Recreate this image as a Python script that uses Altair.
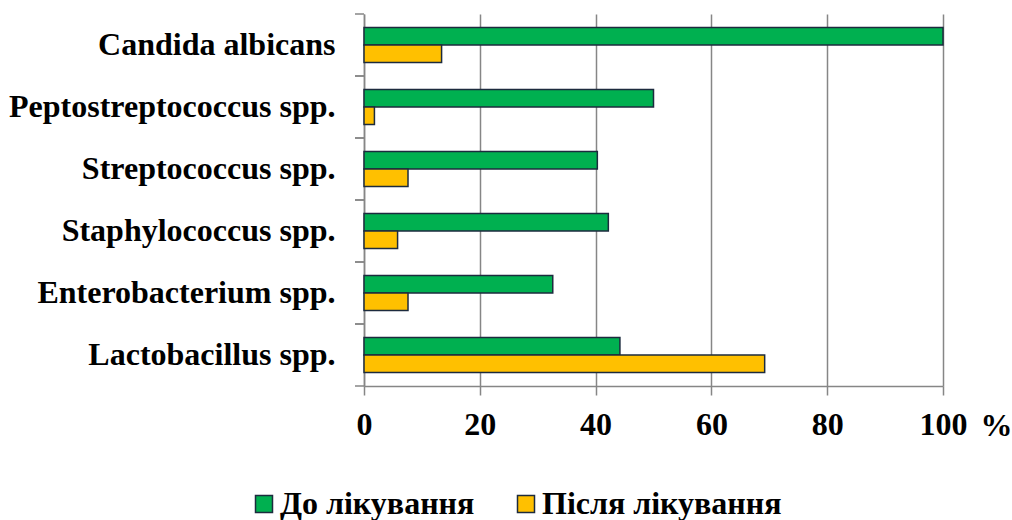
import altair as alt
import pandas as pd

categories = ["Candida albicans", "Peptostreptococcus spp.", "Streptococcus spp.",
              "Staphylococcus spp.", "Enterobacterium spp.", "Lactobacillus spp."]
series_names = ["До лікування", "Після лікування"]
before = [100, 50.0, 40.3, 42.2, 32.6, 44.2]
after = [13.4, 1.8, 7.6, 5.8, 7.6, 69.2]
x_ticks = [0, 20, 40, 60, 80, 100]
colors = ["#00B050", "#FFC000"]

rows = []
for c, b, a in zip(categories, before, after):
    rows.append({"category": c, "series": series_names[0], "value": b})
    rows.append({"category": c, "series": series_names[1], "value": a})
df = pd.DataFrame(rows)
tick_df = pd.DataFrame({"category": categories})

FONT = "Liberation Serif, DejaVu Serif, serif"
GRID = "#868686"
EDGE = "#1c2b3e"

bars = alt.Chart(df).mark_bar(stroke=EDGE, strokeWidth=1.5).encode(
    x=alt.X("value:Q",
            scale=alt.Scale(domain=[0, 100], nice=False),
            axis=alt.Axis(values=x_ticks, grid=True, gridColor=GRID, gridWidth=1.5,
                          domainColor=GRID, domainWidth=1.5, tickColor=GRID, tickWidth=1.5,
                          tickSize=9, labelFont=FONT, labelFontWeight="bold", labelFontSize=32,
                          labelColor="black", labelPadding=14, labelFlush=False,
                          labelOverlap=False, title="%", titleX=632, titleY=49,
                          titleAlign="center", titleBaseline="alphabetic", titleFont=FONT,
                          titleFontSize=32, titleFontWeight="bold", titleColor="black")),
    y=alt.Y("category:N", sort=categories,
            scale=alt.Scale(paddingInner=0, paddingOuter=0),
            axis=alt.Axis(title=None, ticks=False, grid=False, domainColor=GRID, domainWidth=1.5,
                          labelPadding=29, labelFont=FONT, labelFontWeight="bold",
                          labelFontSize=32, labelColor="black", labelLimit=0)),
    yOffset=alt.YOffset("series:N", sort=series_names,
                        scale=alt.Scale(paddingInner=0, paddingOuter=0.771)),
    color=alt.Color("series:N", sort=series_names,
                    scale=alt.Scale(domain=series_names, range=colors),
                    legend=alt.Legend(orient="none", legendX=-116, legendY=474, padding=0,
                                      direction="horizontal", title=None, symbolType="square",
                                      symbolSize=289, symbolStrokeColor=EDGE,
                                      symbolStrokeWidth=1.5, labelFont=FONT, labelFontSize=32,
                                      labelFontWeight="bold", labelColor="black", labelOffset=0,
                                      columnPadding=35, labelLimit=0)),
)

ticks_top = alt.Chart(tick_df).mark_rule(color=GRID, strokeWidth=1.5).encode(
    y=alt.Y("category:N", sort=categories, bandPosition=0),
    x=alt.value(-9), x2=alt.value(0))
ticks_bottom = alt.Chart(tick_df).mark_rule(color=GRID, strokeWidth=1.5).encode(
    y=alt.Y("category:N", sort=categories, bandPosition=1),
    x=alt.value(-9), x2=alt.value(0))

chart = alt.layer(bars, ticks_top, ticks_bottom).properties(
    width=579, height=372,
    autosize=alt.AutoSizeParams(type="none"),
    padding={"left": 364, "top": 14, "right": 69, "bottom": 134},
    background="white",
).configure_view(stroke=None)

chart.save("out.html", embed_options={"renderer": "svg", "actions": False})
